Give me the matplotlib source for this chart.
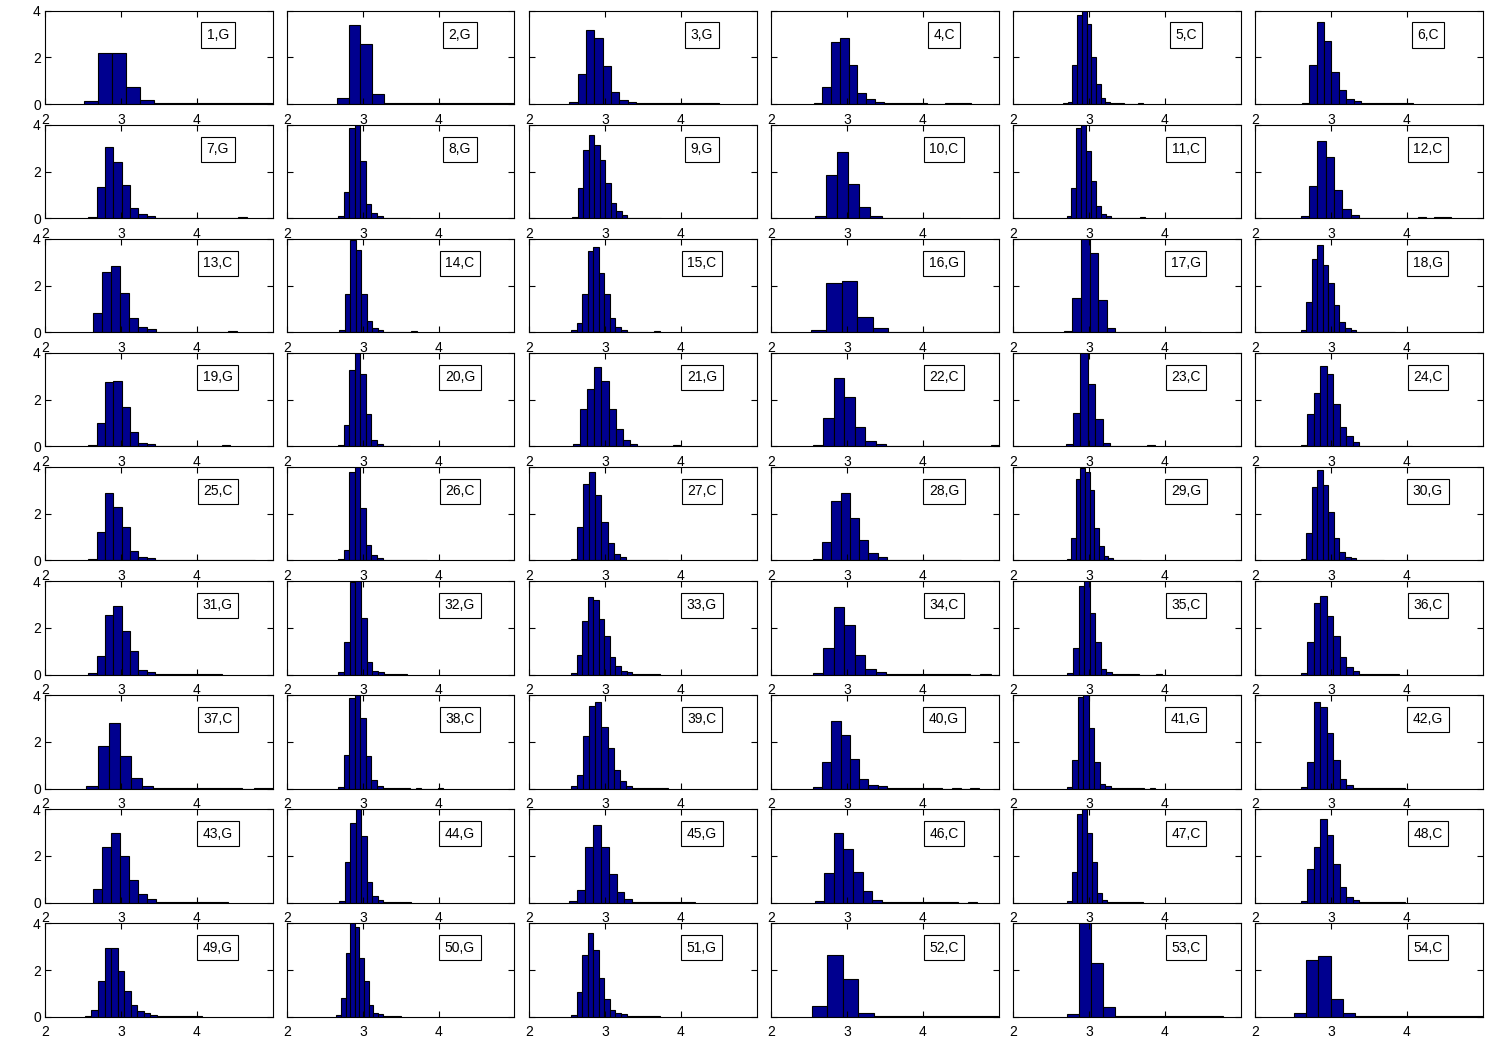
import matplotlib
matplotlib.use("Agg")
import matplotlib.pyplot as plt

plt.rcParams['font.family'] = ['Liberation Sans', 'DejaVu Sans']

# panel codes 1..54
codes = ['G', 'G', 'G', 'C', 'C', 'C', 'G', 'G', 'G', 'C', 'C', 'C',
         'C', 'C', 'C', 'G', 'G', 'G', 'G', 'G', 'G', 'C', 'C', 'C',
         'C', 'C', 'C', 'G', 'G', 'G', 'G', 'G', 'G', 'C', 'C', 'C',
         'C', 'C', 'C', 'G', 'G', 'G', 'G', 'G', 'G', 'C', 'C', 'C',
         'G', 'G', 'G', 'C', 'C', 'C']

# left edge of first bin and bin width per panel
bin_start = [2.518, 2.663, 2.531, 2.564, 2.660, 2.616,
             2.570, 2.676, 2.568, 2.577, 2.706, 2.603,
             2.632, 2.688, 2.556, 2.527, 2.670, 2.603,
             2.570, 2.676, 2.580, 2.552, 2.694, 2.603,
             2.570, 2.676, 2.556, 2.552, 2.706, 2.603,
             2.570, 2.676, 2.556, 2.552, 2.718, 2.603,
             2.546, 2.676, 2.556, 2.552, 2.706, 2.603,
             2.632, 2.688, 2.530, 2.577, 2.706, 2.603,
             2.527, 2.651, 2.556, 2.540, 2.710, 2.513]
bin_width = [0.185, 0.153, 0.110, 0.115, 0.062, 0.098,
             0.110, 0.073, 0.073, 0.147, 0.065, 0.110,
             0.119, 0.073, 0.073, 0.204, 0.113, 0.073,
             0.110, 0.073, 0.094, 0.138, 0.098, 0.086,
             0.110, 0.073, 0.080, 0.122, 0.061, 0.073,
             0.110, 0.075, 0.073, 0.138, 0.073, 0.086,
             0.147, 0.073, 0.080, 0.122, 0.073, 0.086,
             0.119, 0.073, 0.104, 0.126, 0.067, 0.086,
             0.086, 0.061, 0.073, 0.204, 0.158, 0.162]

# normalised bin heights (bins above 4 are clipped by the axes)
bin_height = [
    [0.14, 2.18, 2.18, 0.73, 0.18, 0.03, 0.03, 0.03, 0.03, 0.03, 0.03, 0.03, 0.03, 0.03],
    [0.28, 3.40, 2.58, 0.43, 0.03, 0.03, 0.03, 0.03, 0.03, 0.03, 0.03, 0.03, 0.03, 0.03, 0.03, 0.03],
    [0.09, 1.29, 3.16, 2.82, 1.62, 0.52, 0.17, 0.09, 0.03, 0.03, 0.03, 0.03, 0.03, 0.03, 0.03, 0.03, 0.03, 0.03],
    [0.04, 0.74, 2.68, 2.85, 1.66, 0.50, 0.24, 0.09, 0.03, 0.03, 0.03, 0.03, 0.03, 0.02, 0.0, 0.04, 0.04, 0.04],
    [0.03, 0.10, 1.66, 3.83, 4.30, 3.43, 2.01, 0.88, 0.27, 0.10, 0.03, 0.03, 0.03, 0.0, 0.0, 0.0, 0.04],
    [0.07, 1.66, 3.53, 2.72, 1.38, 0.60, 0.24, 0.13, 0.03, 0.03, 0.03, 0.03, 0.03, 0.03, 0.04],
    [0.07, 1.32, 3.04, 2.41, 1.43, 0.44, 0.17, 0.10, 0.03, 0.03, 0.03, 0.03, 0.03, 0.03, 0.03, 0.03, 0.03, 0.0, 0.04],
    [0.10, 1.13, 3.86, 4.30, 2.44, 0.60, 0.24, 0.10, 0.03, 0.03, 0.03, 0.03, 0.03],
    [0.06, 1.30, 2.94, 3.57, 3.15, 2.51, 1.52, 0.67, 0.31, 0.14, 0.03, 0.03, 0.03, 0.03, 0.03, 0.03],
    [0.11, 1.83, 2.85, 1.45, 0.50, 0.11, 0.03, 0.03, 0.03, 0.03, 0.03, 0.03, 0.03],
    [0.10, 1.30, 3.86, 4.30, 2.87, 1.59, 0.52, 0.20, 0.10, 0.03, 0.03, 0.03, 0.03, 0.03, 0.0, 0.04],
    [0.09, 1.40, 3.32, 2.61, 1.23, 0.38, 0.14, 0.03, 0.03, 0.03, 0.03, 0.03, 0.0, 0.0, 0.04, 0.0, 0.04, 0.04],
    [0.84, 2.58, 2.82, 1.70, 0.60, 0.21, 0.13, 0.03, 0.03, 0.03, 0.03, 0.03, 0.03, 0.03, 0.0, 0.04],
    [0.10, 1.66, 3.96, 3.53, 1.66, 0.50, 0.20, 0.10, 0.03, 0.03, 0.03, 0.03, 0.03, 0.04],
    [0.10, 0.41, 1.66, 3.50, 3.64, 2.54, 1.66, 0.60, 0.24, 0.10, 0.03, 0.03, 0.03, 0.03, 0.03, 0.04],
    [0.11, 2.11, 2.20, 0.67, 0.17, 0.03, 0.03, 0.03, 0.03, 0.03, 0.03, 0.03, 0.03],
    [0.06, 1.48, 4.30, 3.40, 1.38, 0.20, 0.03, 0.03, 0.03, 0.03, 0.03, 0.03, 0.03, 0.03, 0.03, 0.03],
    [0.09, 1.30, 3.15, 3.72, 2.89, 2.09, 1.16, 0.45, 0.18, 0.10, 0.03, 0.03, 0.03, 0.03, 0.03, 0.03, 0.03],
    [0.07, 1.02, 2.75, 2.80, 1.70, 0.62, 0.13, 0.10, 0.03, 0.03, 0.03, 0.03, 0.03, 0.03, 0.0, 0.0, 0.04],
    [0.06, 0.92, 3.29, 4.30, 3.08, 1.38, 0.27, 0.10, 0.03, 0.03, 0.03, 0.03, 0.03],
    [0.10, 1.62, 2.47, 3.39, 2.80, 1.59, 0.74, 0.27, 0.10, 0.03, 0.03, 0.03, 0.03, 0.03, 0.04],
    [0.06, 1.23, 2.91, 2.11, 0.85, 0.24, 0.10, 0.03, 0.03, 0.03, 0.03, 0.03, 0.03, 0.03, 0.03, 0.03, 0.0, 0.04],
    [0.10, 1.45, 4.30, 2.65, 1.16, 0.14, 0.03, 0.03, 0.03, 0.03, 0.0, 0.04],
    [0.07, 1.38, 2.27, 3.43, 3.08, 1.80, 0.81, 0.45, 0.17, 0.03, 0.03, 0.03, 0.03, 0.03, 0.03, 0.03, 0.03],
    [0.07, 1.23, 2.89, 2.27, 1.45, 0.41, 0.17, 0.09, 0.03, 0.03, 0.03, 0.03, 0.03, 0.03, 0.03, 0.03, 0.03, 0.03, 0.0, 0.04],
    [0.07, 0.45, 3.79, 4.30, 2.23, 0.67, 0.24, 0.10, 0.03, 0.03, 0.03, 0.03, 0.03, 0.03, 0.03, 0.03],
    [0.06, 1.45, 3.29, 3.79, 2.80, 1.66, 0.74, 0.27, 0.13, 0.03, 0.03, 0.03, 0.03, 0.03, 0.03, 0.03],
    [0.06, 0.81, 2.55, 2.89, 1.83, 0.88, 0.31, 0.14, 0.03, 0.03, 0.03, 0.03, 0.03, 0.03, 0.03, 0.03],
    [0.07, 0.95, 3.50, 3.96, 3.79, 3.00, 1.38, 0.60, 0.21, 0.10, 0.03, 0.03, 0.03, 0.03, 0.03, 0.03],
    [0.07, 1.16, 3.15, 3.86, 3.22, 2.09, 0.95, 0.38, 0.17, 0.10, 0.03, 0.03, 0.03, 0.03, 0.03],
    [0.07, 0.81, 2.54, 2.94, 1.87, 0.99, 0.20, 0.10, 0.03, 0.03, 0.03, 0.03, 0.03, 0.03, 0.03, 0.03],
    [0.09, 1.38, 3.96, 4.30, 2.44, 0.55, 0.17, 0.10, 0.03, 0.03, 0.03, 0.03],
    [0.07, 0.85, 2.30, 3.33, 3.19, 2.37, 1.66, 0.74, 0.38, 0.17, 0.09, 0.03, 0.03, 0.03, 0.03, 0.03],
    [0.06, 1.12, 2.91, 2.11, 0.85, 0.24, 0.10, 0.03, 0.03, 0.03, 0.03, 0.03, 0.03, 0.03, 0.03, 0.0, 0.04],
    [0.07, 1.12, 3.79, 4.30, 2.62, 1.38, 0.24, 0.10, 0.03, 0.03, 0.03, 0.03, 0.03, 0.0, 0.0, 0.0, 0.04],
    [0.07, 1.38, 3.08, 3.36, 2.51, 1.66, 0.74, 0.31, 0.14, 0.03, 0.03, 0.03, 0.03, 0.03, 0.03],
    [0.13, 1.83, 2.80, 1.40, 0.45, 0.13, 0.03, 0.03, 0.03, 0.03, 0.03, 0.03, 0.03, 0.03, 0.0, 0.04, 0.04],
    [0.07, 1.45, 3.86, 4.30, 3.00, 1.38, 0.38, 0.13, 0.03, 0.03, 0.03, 0.03, 0.03, 0.0, 0.04, 0.0, 0.0, 0.0, 0.04],
    [0.10, 0.60, 2.23, 3.53, 3.69, 2.65, 1.73, 0.81, 0.31, 0.13, 0.03, 0.03, 0.03, 0.03, 0.03, 0.03],
    [0.07, 1.16, 2.91, 2.30, 1.26, 0.41, 0.17, 0.10, 0.03, 0.03, 0.03, 0.03, 0.03, 0.03, 0.0, 0.04, 0.0, 0.04],
    [0.09, 1.23, 3.90, 4.30, 2.58, 1.16, 0.21, 0.10, 0.03, 0.03, 0.03, 0.03, 0.03, 0.03, 0.0, 0.04],
    [0.07, 1.16, 3.72, 3.50, 2.37, 1.23, 0.41, 0.17, 0.03, 0.03, 0.03, 0.03, 0.03, 0.03, 0.03, 0.04],
    [0.60, 2.37, 2.98, 1.99, 0.98, 0.38, 0.14, 0.03, 0.03, 0.03, 0.03, 0.03, 0.03, 0.03, 0.03],
    [0.07, 1.73, 3.43, 4.30, 2.87, 0.88, 0.27, 0.10, 0.03, 0.03, 0.03, 0.03, 0.03],
    [0.07, 0.55, 2.37, 3.32, 2.37, 1.23, 0.45, 0.14, 0.03, 0.03, 0.03, 0.03, 0.03, 0.03, 0.04, 0.04],
    [0.06, 1.28, 2.98, 2.30, 1.30, 0.50, 0.13, 0.03, 0.03, 0.03, 0.03, 0.03, 0.03, 0.03, 0.03, 0.0, 0.04],
    [0.07, 1.30, 3.79, 4.30, 3.00, 1.73, 0.41, 0.13, 0.03, 0.03, 0.03, 0.03, 0.03, 0.03, 0.04],
    [0.07, 1.45, 2.37, 3.57, 2.89, 1.66, 0.67, 0.24, 0.10, 0.03, 0.03, 0.03, 0.03, 0.03, 0.03, 0.04],
    [0.05, 0.30, 1.54, 2.93, 2.93, 1.95, 1.11, 0.51, 0.26, 0.14, 0.09, 0.03, 0.03, 0.03, 0.03, 0.03, 0.03, 0.03],
    [0.06, 0.81, 2.72, 4.30, 3.86, 2.51, 1.52, 0.52, 0.17, 0.10, 0.03, 0.03, 0.03, 0.03],
    [0.07, 1.06, 2.65, 3.60, 2.87, 1.66, 0.78, 0.31, 0.17, 0.10, 0.03, 0.03, 0.03, 0.03, 0.03, 0.03],
    [0.45, 2.65, 1.62, 0.15, 0.03, 0.03, 0.03, 0.03, 0.03, 0.03, 0.03, 0.03],
    [0.10, 4.30, 2.30, 0.41, 0.03, 0.03, 0.03, 0.03, 0.03, 0.03, 0.03, 0.03, 0.03],
    [0.16, 2.42, 2.61, 0.75, 0.16, 0.03, 0.03, 0.03, 0.03, 0.03, 0.03, 0.03, 0.03, 0.03, 0.03, 0.03],
]

x_ticks = [2, 3, 4]
y_ticks = [0, 2, 4]

W, H = 1496, 1047
fig = plt.figure(figsize=(W / 100, H / 100), dpi=100)

col_left = [45, 287, 529, 771, 1013, 1255]
ax_w, ax_h = 227.5, 93.5

for i in range(54):
    r, c = divmod(i, 6)
    top = 10.7 + 114.07 * r
    ax = fig.add_axes([col_left[c] / W, 1 - (top + ax_h) / H, ax_w / W, ax_h / H])
    h = bin_height[i]
    lefts = [bin_start[i] + k * bin_width[i] for k in range(len(h))]
    ax.bar(lefts, h, width=bin_width[i], align='edge', color='#00008f',
           edgecolor='black', linewidth=0.8)
    ax.set_xlim(2, 5)
    ax.set_ylim(0, 4)
    ax.set_xticks(x_ticks)
    ax.set_yticks(y_ticks)
    ax.tick_params(direction='in', top=True, right=True, length=4,
                   width=0.8, labelsize=10, colors='black')
    ax.tick_params(axis='x', pad=6)
    ax.tick_params(axis='y', pad=3)
    if c > 0:
        ax.set_yticklabels([])
    for s in ax.spines.values():
        s.set_linewidth(0.8)
    ax.text(0.76, 0.74, '%d,%s' % (i + 1, codes[i]), transform=ax.transAxes,
            ha='center', va='center', fontsize=10,
            bbox=dict(boxstyle='square,pad=0.4', fc='white', ec='black', lw=0.8))

fig.savefig('out.png', dpi=100)
